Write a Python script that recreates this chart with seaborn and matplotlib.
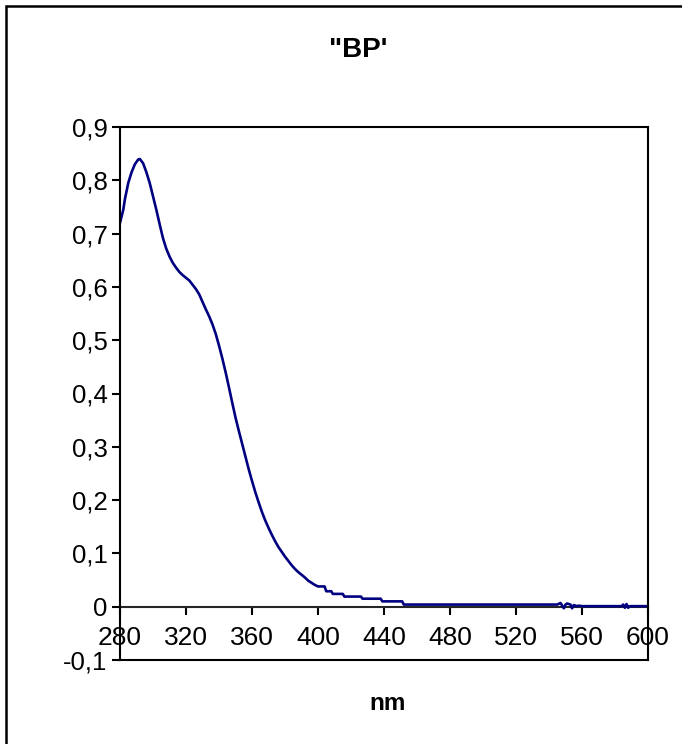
#!/usr/bin/env python3
"""
Absorption spectrum "BP" (Excel-style chart)
"""
import matplotlib
matplotlib.use("Agg")
import matplotlib.pyplot as plt
import matplotlib.patches as patches
from matplotlib.ticker import FuncFormatter
import seaborn as sns
import pandas as pd

# wavelength (nm) and absorbance
wavelength = [
    280, 282, 283, 285, 287, 289, 291, 292, 294, 296, 298, 300, 302, 304, 306,
    308, 310, 312, 314, 316, 318, 320, 322, 324, 326, 328, 330, 332, 334, 336,
    338, 340, 342, 344, 346, 348, 350, 352, 354, 356, 358, 360, 362, 364, 366,
    368, 370, 372, 374, 376, 378, 380, 382, 384, 386, 388, 390, 392, 394, 396,
    398, 400, 404, 405, 408, 409, 415, 416, 426, 427, 438, 439, 451, 452, 480,
    520, 545, 547, 549, 550, 551, 553, 554, 555, 557, 558, 560, 584, 585, 586,
    587, 588, 589, 600,
]
absorbance = [
    0.720, 0.745, 0.765, 0.795, 0.815, 0.830, 0.839, 0.840, 0.832, 0.815, 0.795,
    0.770, 0.745, 0.718, 0.692, 0.672, 0.657, 0.645, 0.636, 0.628, 0.622, 0.617,
    0.612, 0.604, 0.596, 0.586, 0.572, 0.558, 0.545, 0.530, 0.512, 0.490, 0.466,
    0.440, 0.412, 0.383, 0.355, 0.330, 0.306, 0.282, 0.258, 0.236, 0.215, 0.196,
    0.178, 0.162, 0.148, 0.135, 0.123, 0.112, 0.103, 0.094, 0.086, 0.078, 0.071,
    0.065, 0.060, 0.055, 0.049, 0.045, 0.041, 0.038, 0.038, 0.029, 0.029, 0.024,
    0.024, 0.019, 0.019, 0.015, 0.015, 0.010, 0.010, 0.004, 0.004, 0.004, 0.004,
    0.007, -0.003, 0.004, 0.006, 0.004, -0.003, 0.003, 0.001, 0.002, 0.001,
    0.001, 0.004, -0.002, 0.005, -0.002, 0.001, 0.001,
]

x_ticks = [280, 320, 360, 400, 440, 480, 520, 560, 600]
y_ticks = [-0.1, 0, 0.1, 0.2, 0.3, 0.4, 0.5, 0.6, 0.7, 0.8, 0.9]

df = pd.DataFrame({"nm": wavelength, "abs": absorbance})

sns.set_style("white")
plt.rcParams["font.family"] = ["Liberation Sans", "DejaVu Sans"]
plt.rcParams["text.color"] = "black"
plt.rcParams["xtick.color"] = "black"
plt.rcParams["ytick.color"] = "black"

fig = plt.figure(figsize=(6.82, 7.44), dpi=100)
ax = fig.add_axes([120 / 682, 1 - 660 / 744, 528 / 682, 533 / 744])

sns.lineplot(data=df, x="nm", y="abs", ax=ax, color="#000080",
             linewidth=1.9, sort=False, estimator=None)

ax.set_xlim(280, 600)
ax.set_ylim(-0.1, 0.9)
ax.set_xlabel("")
ax.set_ylabel("")

for sp in ax.spines.values():
    sp.set_visible(True)
    sp.set_color("black")
    sp.set_linewidth(1.5)

def comma(v, pos):
    if abs(v) < 1e-9:
        return "0"
    return f"{v:.1f}".replace(".", ",")

ax.set_yticks(y_ticks)
ax.yaxis.set_major_formatter(FuncFormatter(comma))
ax.tick_params(axis="y", direction="out", length=6, width=1.5,
               labelsize=18.5, pad=3, left=True)
ax.tick_params(axis="x", bottom=False, labelbottom=False)

# x axis drawn at y = 0, like the Excel chart
sec = ax.secondary_xaxis(0.1)
sec.set_xticks(x_ticks)
sec.spines["bottom"].set_linewidth(1.5)
sec.tick_params(direction="out", length=6, width=1.5, labelsize=19, pad=8)

fig.text(358 / 682, 1 - 50 / 744, '"BP\'', ha="center", va="center",
         fontsize=20, fontweight="bold")
fig.text(388 / 682, 1 - 703 / 744, "nm", ha="center", va="center",
         fontsize=17.5, fontweight="bold")

# chart area frame (cut off at right and bottom)
frame = patches.Rectangle((6 / 682, -0.05), 1.2, 1 - 6 / 744 + 0.05,
                          transform=fig.transFigure, fill=False,
                          edgecolor="black", linewidth=1.8, clip_on=False)
fig.add_artist(frame)

fig.savefig("out.png", dpi=100)
